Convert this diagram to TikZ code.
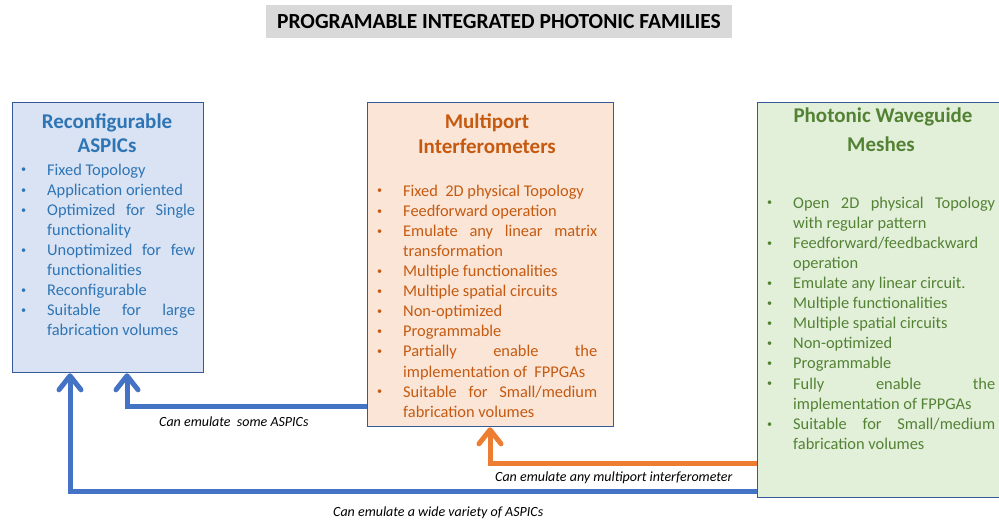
\documentclass[tikz,border=0pt]{standalone}
\usepackage{fontspec}
\usepackage{graphicx}
\setmainfont{Carlito}
\usetikzlibrary{arrows.meta}

\definecolor{panelline}{RGB}{55,90,150}
\definecolor{linkblue}{RGB}{68,114,196}
\definecolor{linkorange}{RGB}{237,125,49}
\definecolor{asicfill}{RGB}{218,227,243}
\definecolor{asictext}{RGB}{46,117,182}
\definecolor{mpifill}{RGB}{251,229,214}
\definecolor{mpitext}{RGB}{197,90,17}
\definecolor{meshfill}{RGB}{226,240,217}
\definecolor{meshtext}{RGB}{84,130,53}
\definecolor{headfill}{RGB}{217,217,217}

\setlength\parindent{0pt}
% a line stretched to a given column width (stretchable word spaces)
\newcommand\fl[2]{\makebox[#1][s]{\spaceskip=0pt\xspaceskip=0pt #2}}
% small bullet hung in the left margin of the column
\newcommand\bu{\leavevmode\llap{\raisebox{2.2pt}{\scalebox{0.62}{\textbullet}}\hspace{21pt}}}

\begin{document}
\begin{tikzpicture}[x=1pt,y=-1pt,
  panel/.style={draw=panelline, line width=1.3pt, anchor=north west, inner sep=0pt},
  famtitle/.style={font=\bfseries\fontsize{21}{25}\selectfont, anchor=base, inner sep=0pt},
  famlist/.style={font=\fontsize{16.4}{20.1}\selectfont, align=flush left, inner sep=0pt, anchor=north west},
  link/.style={line width=5pt, -{Straight Barb[length=14pt,width=22pt,round]}},
  note/.style={font=\itshape\fontsize{14}{17}\selectfont, anchor=base west, inner sep=0pt}]

\useasboundingbox (0,0) rectangle (999,521);
\clip (0,0) rectangle (999,521);

% heading
\node[fill=headfill, minimum width=466pt, minimum height=33pt, inner sep=0pt,
      font=\bfseries\fontsize{21.5}{25}\selectfont] (head) at (499,21.5)
      {PROGRAMABLE INTEGRATED PHOTONIC FAMILIES};

% the three families
\node[panel, fill=asicfill, minimum width=191pt, minimum height=270pt] (aspic) at (12,102) {};
\node[panel, fill=mpifill, minimum width=246pt, minimum height=324pt] (mpi) at (367,102) {};
\node[panel, fill=meshfill, minimum width=262pt, minimum height=395pt] (mesh) at (757,102) {};

% Reconfigurable ASPICs
\node[famtitle, text=asictext] (aspicA) at (107,129) {Reconfigurable};
\node[famtitle, text=asictext] (aspicB) at (107,153) {ASPICs};
\node[famlist, text=asictext, text width=148pt] (aspiclist) at (47,160.9) {%
\strut\bu Fixed Topology\\
\bu Application oriented\\
\bu\fl{148pt}{Optimized for Single}\\
functionality\\
\bu\fl{148pt}{Unoptimized for few}\\
functionalities\\
\bu Reconfigurable\\
\bu\fl{148pt}{Suitable for large}\\
fabrication volumes};

% Multiport interferometers
\node[famtitle, text=mpitext] (mpiA) at (487,129) {Multiport};
\node[famtitle, text=mpitext] (mpiB) at (487,154) {Interferometers};
\node[famlist, text=mpitext, text width=194pt] (mpilist) at (403,181.9) {%
\strut\bu Fixed\ \ 2D physical Topology\\
\bu Feedforward operation\\
\bu\fl{194pt}{Emulate any linear matrix}\\
transformation\\
\bu Multiple functionalities\\
\bu Multiple spatial circuits\\
\bu Non-optimized\\
\bu Programmable\\
\bu\fl{194pt}{Partially enable the}\\
implementation of\ \ FPPGAs\\
\bu\fl{194pt}{Suitable for Small/medium}\\
fabrication volumes};

% Photonic waveguide meshes
\node[famtitle, text=meshtext] (meshA) at (883,123) {Photonic Waveguide};
\node[famtitle, text=meshtext] (meshB) at (881,152) {Meshes};
\node[famlist, text=meshtext, text width=202pt] (meshlist) at (793,193.9) {%
\strut\bu\fl{202pt}{Open 2D physical Topology}\\
with regular pattern\\
\bu Feedforward/feedbackward\\
operation\\
\bu Emulate any linear circuit.\\
\bu Multiple functionalities\\
\bu Multiple spatial circuits\\
\bu Non-optimized\\
\bu Programmable\\
\bu\fl{202pt}{Fully enable the}\\
implementation of FPPGAs\\
\bu\fl{202pt}{Suitable for Small/medium}\\
fabrication volumes};

% emulation links
\draw[link, linkblue] (mpi.west |- 0,406) -| (127,0 |- aspic.south);
\draw[link, linkorange] (mesh.west |- 0,463) -| (490,0 |- mpi.south);
\draw[link, linkblue] (mesh.west |- 0,491) -| (70,0 |- aspic.south);

\node[note] (noteA) at (159,426.5) {Can emulate\ \ some ASPICs};
\node[note] (noteB) at (495,481.5) {Can emulate any multiport interferometer};
\node[note] (noteC) at (333,516) {Can emulate a wide variety of ASPICs};
\end{tikzpicture}
\end{document}
